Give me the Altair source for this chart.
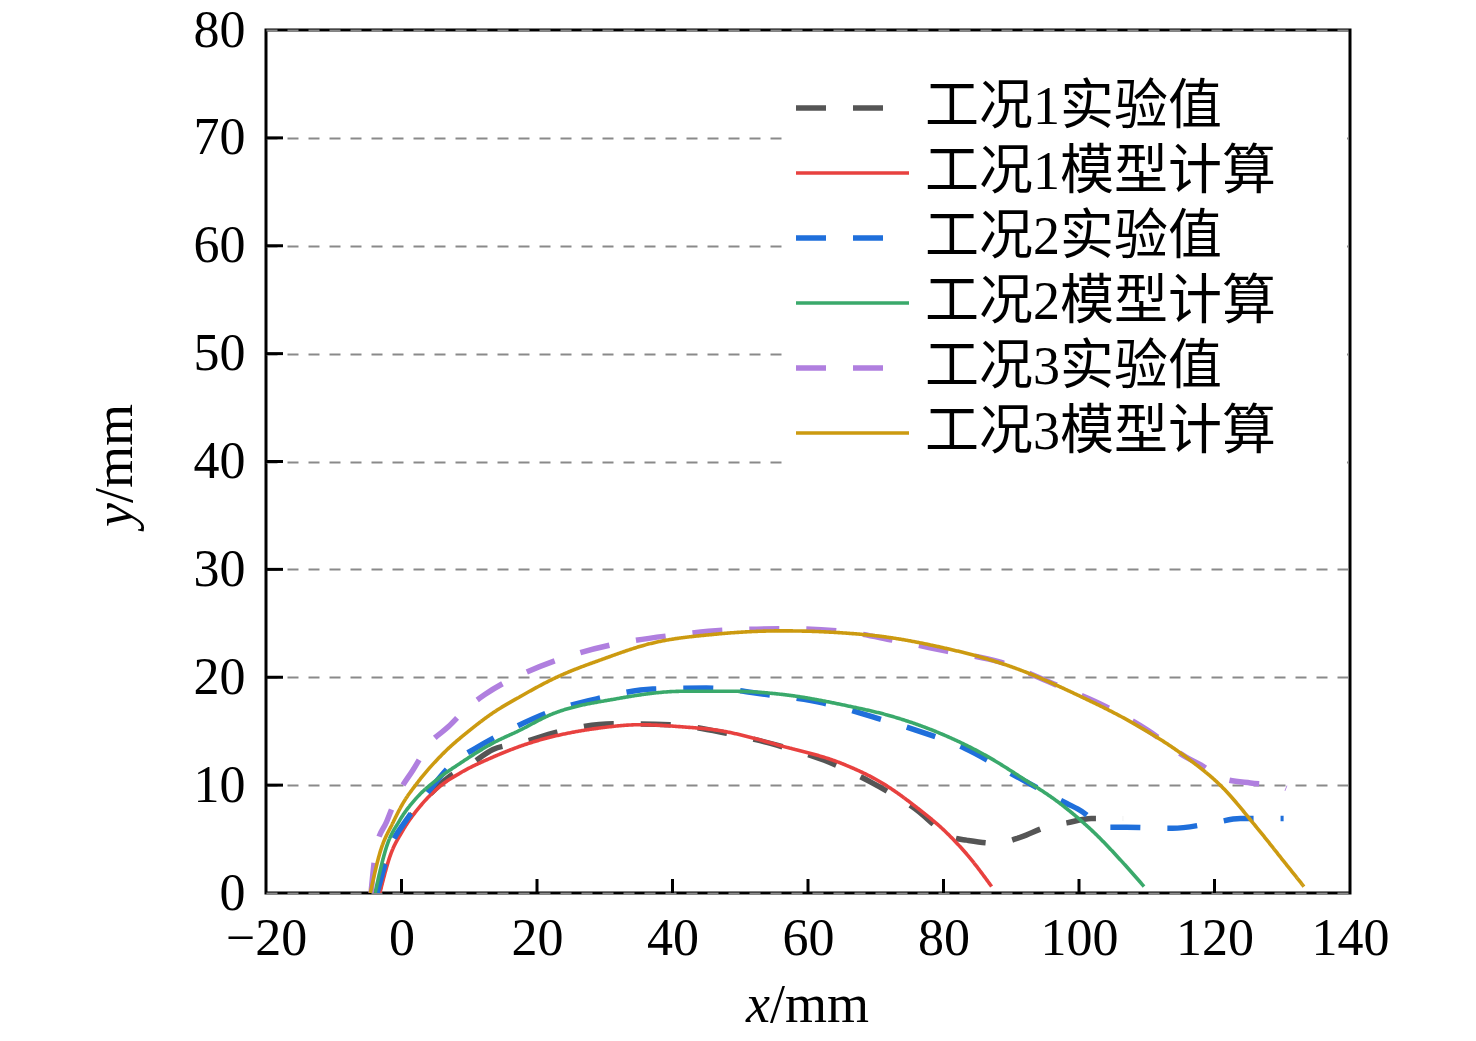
import altair as alt
import pandas as pd

# ---------------- data ----------------
series = ["工况1实验值", "工况1模型计算", "工况2实验值", "工况2模型计算", "工况3实验值", "工况3模型计算"]

exp1_x = [-3.4, -2.0, 0.0, 3.7, 7.1, 10.1, 13.5, 17.5, 22.9, 31.2, 39.6, 48.0, 55.4, 62.4, 69.2, 75.4, 81.6, 83.4, 87.8, 91.5, 95.1, 98.2, 101.8, 106.5]
exp1_y = [0.0, 3.4, 5.9, 8.8, 10.8, 11.9, 13.3, 13.9, 14.9, 15.7, 15.6, 14.8, 13.7, 12.3, 10.3, 8.0, 5.1, 4.9, 4.6, 5.2, 6.1, 6.5, 6.9, 6.9]

mod1_x = [-3.2, -1.7, 0.2, 2.7, 5.7, 8.6, 13.5, 17.5, 29.3, 35.2, 41.5, 46.5, 56.3, 65.0, 71.2, 75.9, 80.6, 83.7, 87.1]
mod1_y = [0.0, 3.4, 5.8, 8.0, 9.9, 11.1, 12.6, 13.6, 15.3, 15.6, 15.4, 15.1, 13.6, 12.0, 10.1, 8.0, 5.5, 3.4, 0.6]

exp2_x = [-3.6, -1.2, 0.2, 3.7, 8.1, 10.6, 16.5, 21.9, 28.8, 37.1, 45.0, 53.9, 62.3, 69.7, 75.9, 83.2, 89.9, 98.2, 99.8, 104.4, 107.0, 113.8, 119.8, 123.8, 129.2, 130.2]
exp2_y = [0.0, 4.9, 6.3, 9.2, 12.3, 13.3, 15.3, 16.8, 18.0, 18.9, 19.0, 18.4, 17.6, 16.3, 15.1, 13.4, 11.1, 8.3, 7.8, 6.1, 6.1, 6.0, 6.5, 6.9, 6.9, 6.9]

mod2_x = [-3.9, -2.2, -0.3, 2.2, 5.2, 8.6, 13.5, 17.5, 21.9, 31.7, 41.6, 48.9, 56.3, 66.2, 71.7, 79.5, 85.8, 92.0, 97.2, 102.4, 106.5, 109.6]
mod2_y = [0.0, 4.3, 6.7, 8.8, 10.5, 12.0, 13.9, 15.1, 16.5, 18.0, 18.7, 18.7, 18.4, 17.3, 16.5, 14.8, 12.9, 10.5, 8.3, 5.5, 2.8, 0.6]

exp3_x = [-4.5, -3.7, -2.2, -0.5, 1.7, 4.2, 6.9, 9.6, 12.3, 15.5, 17.5, 24.4, 31.7, 40.1, 48.5, 56.8, 64.4, 72.8, 80.6, 88.4, 96.2, 103.9, 110.1, 115.8, 117.9, 121.3, 125.3, 129.2, 130.6]
exp3_y = [0.0, 4.3, 6.6, 9.2, 11.4, 13.9, 15.4, 17.1, 18.4, 19.6, 20.2, 21.9, 23.1, 23.9, 24.4, 24.5, 24.3, 23.4, 22.4, 21.4, 19.4, 17.3, 15.1, 12.6, 11.9, 10.6, 10.2, 10.0, 9.7]

mod3_x = [-4.6, -3.2, -1.2, 0.2, 2.2, 6.1, 10.1, 13.5, 17.5, 22.9, 29.8, 36.6, 46.5, 56.3, 69.2, 79.5, 89.9, 100.3, 108.1, 115.8, 121.0, 126.2, 130.4, 133.2]
mod3_y = [0.0, 3.7, 6.6, 8.3, 10.1, 12.9, 15.1, 16.7, 18.2, 20.0, 21.7, 23.1, 24.0, 24.3, 23.9, 22.8, 21.0, 18.2, 15.7, 12.6, 9.9, 6.1, 2.8, 0.6]

x_ticks = [0, 20, 40, 60, 80, 100, 120]
y_ticks = [10, 20, 30, 40, 50, 60, 70]

# ---------------- styles ----------------
colors = ["#555555", "#e8413f", "#1f6fdb", "#3aa96b", "#b07fdf", "#cc9a10"]
dashes = [[30, 27], [1, 0], [30, 27], [1, 0], [30, 27], [1, 0]]
widths = [5.5, 3.6, 5.5, 3.6, 5.5, 3.6]

W, H = 1084, 863
FONT = "Liberation Serif"
CJK = "Liberation Serif, Noto Sans CJK SC"

xs = [exp1_x, mod1_x, exp2_x, mod2_x, exp3_x, mod3_x]
ys = [exp1_y, mod1_y, exp2_y, mod2_y, exp3_y, mod3_y]
rows = []
for i, (s, xv, yv) in enumerate(zip(series, xs, ys)):
    for a, b in zip(xv, yv):
        rows.append({"series": s, "k": i, "x": a, "y": b})
df = pd.DataFrame(rows)

xscale = alt.Scale(domain=[-20, 140], nice=False, zero=False)
yscale = alt.Scale(domain=[0, 80], nice=False, zero=False)
xaxis = alt.Axis(values=list(range(-20, 141, 20)), title=None, labelFlush=False)
yaxis = alt.Axis(values=list(range(0, 81, 10)), title=None, labelFlush=False)

LT = "\u00a0"
lines = alt.Chart(df).mark_line(interpolate="monotone", clip=True).encode(
    x=alt.X("x:Q", scale=xscale, axis=xaxis),
    y=alt.Y("y:Q", scale=yscale, axis=yaxis),
    color=alt.Color("series:N", scale=alt.Scale(domain=series, range=colors), title=LT),
    strokeDash=alt.StrokeDash("series:N", scale=alt.Scale(domain=series, range=dashes), title=LT),
    strokeWidth=alt.StrokeWidth("series:N", scale=alt.Scale(type="ordinal", domain=series, range=widths), title=LT),
    detail="k:O",
)

xt = alt.Chart(pd.DataFrame({"x": x_ticks})).mark_rule(color="black", strokeWidth=3).encode(
    x=alt.X("x:Q", scale=xscale, axis=xaxis),
    y=alt.value(H - 14), y2=alt.value(H),
)
yt = alt.Chart(pd.DataFrame({"y": y_ticks})).mark_rule(color="black", strokeWidth=3).encode(
    y=alt.Y("y:Q", scale=yscale, axis=yaxis),
    x=alt.value(0), x2=alt.value(17),
)

one = pd.DataFrame({"t": [0]})
xt_i = alt.Chart(one).mark_text(font=FONT, fontSize=54, fontStyle="italic", align="right", baseline="alphabetic", color="black").encode(
    x=alt.value(504), y=alt.value(992), text=alt.value("x"))
xt_r = alt.Chart(one).mark_text(font=FONT, fontSize=54, align="left", baseline="alphabetic", color="black").encode(
    x=alt.value(504), y=alt.value(992), text=alt.value("/mm"))
yt_i = alt.Chart(one).mark_text(font=FONT, fontSize=54, fontStyle="italic", align="right", baseline="alphabetic", angle=270, color="black").encode(
    x=alt.value(-134), y=alt.value(473), text=alt.value("y"))
yt_r = alt.Chart(one).mark_text(font=FONT, fontSize=54, align="left", baseline="alphabetic", angle=270, color="black").encode(
    x=alt.value(-134), y=alt.value(473), text=alt.value("/mm"))

chart = alt.layer(lines, xt, yt, xt_i, xt_r, yt_i, yt_r).properties(
    width=W, height=H,
    autosize=alt.AutoSizeParams(type="none"),
    padding={"left": 258, "top": 22, "right": 100, "bottom": 145},
).configure_view(
    stroke="black", strokeWidth=3
).configure_axis(
    labelFont=FONT, labelFontSize=52, labelColor="black", ticks=False, domain=False
).configure_axisY(
    grid=True, gridColor="#8a8a8a", gridDash=[11, 10], gridWidth=2, labelPadding=21
).configure_axisX(
    grid=False, labelPadding=20
).configure_legend(
    orient="none", legendX=517, legendY=41, fillColor="white", padding=10,
    symbolType="stroke", symbolSize=12769, clipHeight=54,
    labelFont=CJK, labelFontSize=54, labelColor="black", labelOffset=13, rowPadding=11,
    labelLimit=1000,
    titleOrient="right", titlePadding=61, titleFontSize=1,
)

chart.save("out.html", embed_options={"renderer": "svg", "actions": False})
